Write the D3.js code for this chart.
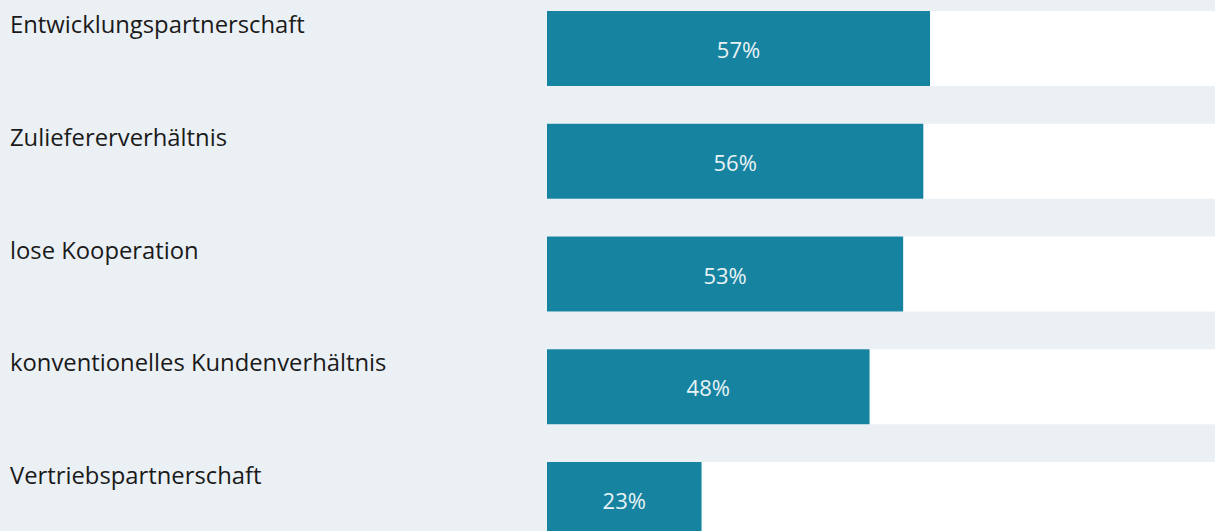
<!DOCTYPE html>
<html lang="de">
<head>
<meta charset="utf-8">
<script src="https://cdn.jsdelivr.net/npm/d3@7"></script>
<style>
  html, body { margin: 0; padding: 0; background: #ebf0f5; }
  svg { display: block; }
  text { font-family: "Open Sans", "Noto Sans", sans-serif; }
</style>
</head>
<body>
<svg id="chart" width="1215" height="531"></svg>
<script>
// Anteile der Kooperationsformen (in %)
const categories = [
  "Entwicklungspartnerschaft",
  "Zuliefererverhältnis",
  "lose Kooperation",
  "konventionelles Kundenverhältnis",
  "Vertriebspartnerschaft"
];
const values = [57, 56, 53, 48, 23];

const width = 1215, height = 531;
const svg = d3.select("#chart");

svg.append("rect")
  .attr("width", width).attr("height", height)
  .attr("fill", "#ebf0f5");

const x = d3.scaleLinear().domain([0, 100]).range([547, 1219]);
const y = d3.scaleBand().domain(categories).range([11, 537])
  .paddingInner(0.335).paddingOuter(0);

const rows = svg.selectAll("g.row")
  .data(categories.map((c, i) => ({ c, v: values[i] })))
  .join("g").attr("class", "row");

// weißer Hintergrundstreifen je Zeile
rows.append("rect")
  .attr("x", x(0)).attr("y", d => y(d.c))
  .attr("width", width - x(0)).attr("height", y.bandwidth())
  .attr("fill", "#ffffff");

// Balken
rows.append("rect")
  .attr("x", x(0)).attr("y", d => y(d.c))
  .attr("width", d => x(d.v) - x(0)).attr("height", y.bandwidth())
  .attr("fill", "#1684a1");

// Kategorienbeschriftung
rows.append("text")
  .attr("x", 10).attr("y", d => y(d.c) + 22)
  .attr("font-size", 23.8).attr("fill", "#1a1a1a")
  .text(d => d.c);

// Wertbeschriftung im Balken
rows.append("text")
  .attr("x", d => (x(0) + x(d.v)) / 2)
  .attr("y", d => y(d.c) + 47)
  .attr("text-anchor", "middle")
  .attr("font-size", 22).attr("fill", "#e9f2f5")
  .text(d => d.v + "%");
</script>
</body>
</html>
